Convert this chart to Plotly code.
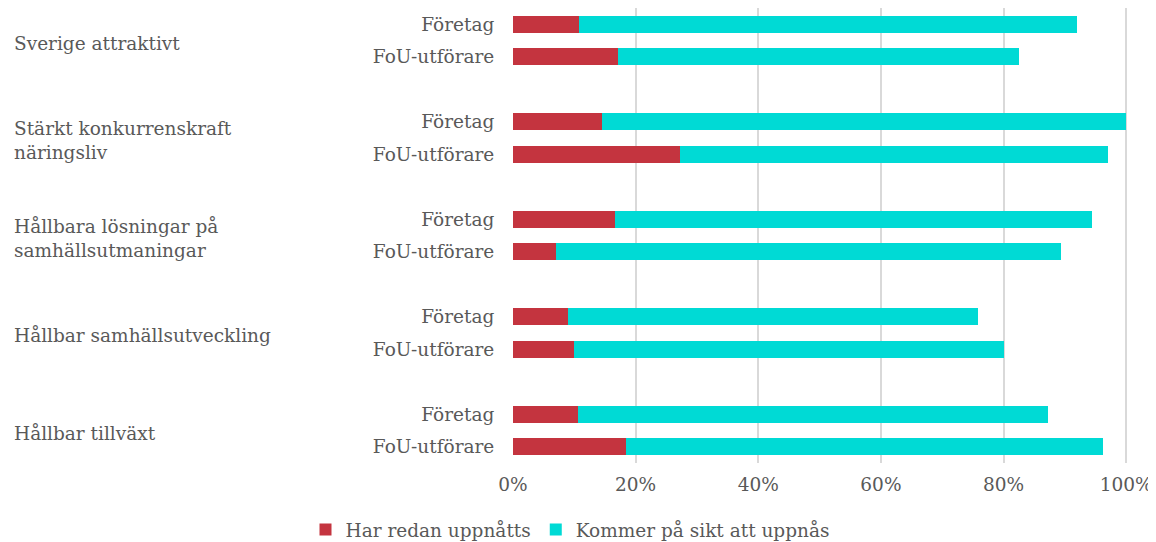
import plotly.graph_objects as go

groups = ["Sverige attraktivt", "Stärkt konkurrenskraft<br>näringsliv",
          "Hållbara lösningar på<br>samhällsutmaningar", "Hållbar samhällsutveckling",
          "Hållbar tillväxt"]
subcats = ["Företag", "FoU-utförare"]

# values in percent, per group: [Företag, FoU-utförare]
har_redan = [[10.7, 17.2], [14.5, 27.2], [16.6, 7.0], [9.0, 10.0], [10.6, 18.4]]
kommer = [[81.3, 65.4], [85.5, 69.8], [77.9, 82.3], [66.8, 70.0], [76.7, 77.9]]

x_ticks = [0, 20, 40, 60, 80, 100]
x_ticklabels = ["0%", "20%", "40%", "60%", "80%", "100%"]

series_names = ["Har redan uppnåtts", "Kommer på sikt att uppnås"]
colors = ["#C4343F", "#00DAD5"]
FONT = "DejaVu Serif"
FS = 18.5
TXT = "#595959"

# category positions: two bars per group plus a blank slot between groups
pos, labels, v1, v2, gcenter = [], [], [], [], []
for gi in range(len(groups)):
    base = gi * 3
    for si in range(2):
        pos.append(base + si)
        labels.append(subcats[si])
        v1.append(har_redan[gi][si])
        v2.append(kommer[gi][si])
    gcenter.append(base + 0.5)

fig = go.Figure()
for name, vals, c in zip(series_names, [v1, v2], colors):
    fig.add_trace(go.Bar(
        y=pos, x=vals, name=name, orientation="h",
        marker=dict(color=c, line=dict(width=0)), width=0.52,
    ))

# the page body adds an 8px offset; figure sized to fill the rest of the window
W, H = 1148, 534
L, R, T, B = 505, 28, 0, 79
pw = W - L - R
ph = H - T - B
for g, yc in zip(groups, gcenter):
    fig.add_annotation(
        x=-(L - 4) / pw, xref="paper", y=yc + 0.08, yref="y",
        text=g, showarrow=False, xanchor="left", yanchor="middle", align="left",
        font=dict(family=FONT, size=FS, color=TXT),
    )

fig.update_layout(
    barmode="stack",
    width=W, height=H,
    margin=dict(l=L, r=R, t=T, b=B, autoexpand=False),
    paper_bgcolor="white", plot_bgcolor="white",
    font=dict(family=FONT, size=FS, color=TXT),
    showlegend=True,
    legend=dict(orientation="h", xref="container", yref="paper",
                x=562 / W, xanchor="center", y=(ph - 522) / ph, yanchor="middle",
                font=dict(family=FONT, size=FS, color=TXT),
                itemwidth=30, traceorder="normal"),
    xaxis=dict(range=[0, 100.3], tickvals=x_ticks, ticktext=x_ticklabels,
               showgrid=True, gridcolor="#D9D9D9", gridwidth=1.5,
               zeroline=False, showline=False, ticks="outside",
               ticklen=5, tickcolor="rgba(0,0,0,0)", automargin=False,
               tickfont=dict(family=FONT, size=FS, color=TXT)),
    yaxis=dict(range=[13.5, -0.5], tickvals=pos, ticktext=labels,
               showgrid=False, zeroline=False, showline=False,
               ticks="outside", ticklen=14, tickcolor="rgba(0,0,0,0)",
               automargin=False,
               tickfont=dict(family=FONT, size=FS, color=TXT)),
)

fig.write_html("out.html")
